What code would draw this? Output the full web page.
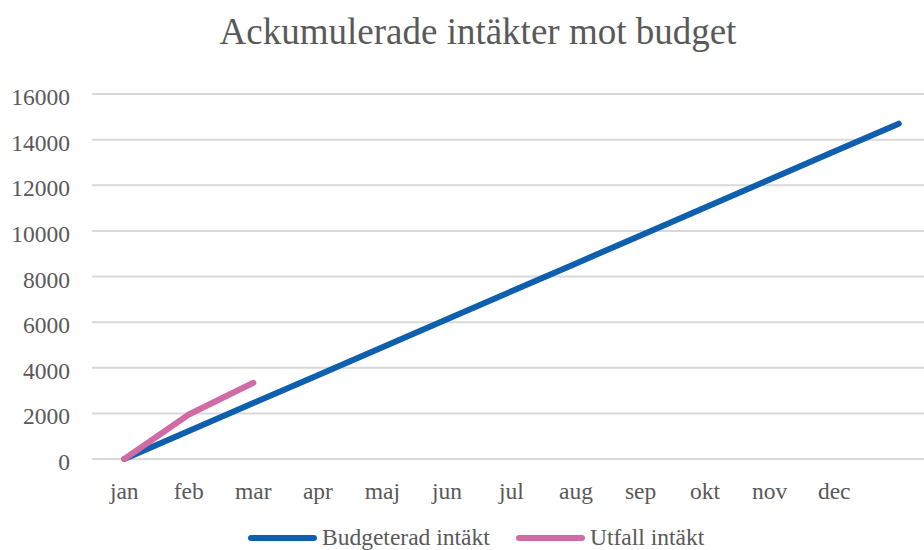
<!DOCTYPE html>
<html>
<head>
<meta charset="utf-8">
<script src="https://cdn.jsdelivr.net/npm/d3@7"></script>
<style>
  body { margin: 0; background: #fff; }
</style>
</head>
<body>
<div class="chart"></div>
<script>
// Data
const months = ['jan', 'feb', 'mar', 'apr', 'maj', 'jun', 'jul', 'aug', 'sep', 'okt', 'nov', 'dec', '']
const budget = [0, 1225, 2450, 3675, 4900, 6125, 7350, 8575, 9800, 11025, 12250, 13475, 14700]
const actual = [0, 1950, 3340]
const yTicks = [0, 2000, 4000, 6000, 8000, 10000, 12000, 14000, 16000]
const seriesNames = ['Budgeterad intäkt', 'Utfall intäkt']

const chartTitle = 'Ackumulerade intäkter mot budget'

/* Configuration */
const width = 924
const height = 550
const margin = { top: 94, left: 92, right: -7, bottom: 91 }
const colors = ['#0E5FAE', '#D16BA6']
const font = "'Times New Roman', 'Liberation Serif', Tinos, serif"
const labelSize = 23.5

const svg = d3
    .select('.chart')
    .append('svg')
    .attr('width', width)
    .attr('height', height)
    .style('font-family', font)
    .attr('fill', '#595959')

const x = d3
    .scaleBand()
    .domain(d3.range(months.length))
    .range([margin.left, width - margin.right])

const y = d3
    .scaleLinear()
    .domain([0, 16000])
    .range([height - margin.bottom, margin.top])

const xPos = i => x(i) + x.bandwidth() / 2

// Title
svg
    .append('text')
    .attr('x', 478)
    .attr('y', 44)
    .attr('text-anchor', 'middle')
    .attr('font-size', 37)
    .text(chartTitle)

// Gridlines
svg
    .append('g')
    .selectAll('line')
    .data(yTicks)
    .join('line')
    .attr('x1', margin.left)
    .attr('x2', width)
    .attr('y1', d => y(d))
    .attr('y2', d => y(d))
    .attr('stroke', '#D9D9D9')
    .attr('stroke-width', 2)

// Y labels
svg
    .append('g')
    .selectAll('text')
    .data(yTicks)
    .join('text')
    .attr('x', 70)
    .attr('y', d => y(d) + 11)
    .attr('text-anchor', 'end')
    .attr('font-size', labelSize)
    .text(d => d)

// X labels
svg
    .append('g')
    .selectAll('text')
    .data(months)
    .join('text')
    .attr('x', (d, i) => xPos(i))
    .attr('y', 499)
    .attr('text-anchor', 'middle')
    .attr('font-size', labelSize)
    .text(d => d)

// Lines
const line = d3
    .line()
    .x((d, i) => xPos(i))
    .y(d => y(d))

;[budget, actual].forEach((s, k) => {
    svg
        .append('path')
        .datum(s)
        .attr('fill', 'none')
        .attr('stroke', colors[k])
        .attr('stroke-width', 6)
        .attr('stroke-linecap', 'round')
        .attr('stroke-linejoin', 'round')
        .attr('d', line)
})

// Legend
const legendX = [251, 519]
const legend = svg
    .append('g')
    .selectAll('g')
    .data(d3.zip(seriesNames, colors))
    .join('g')
    .attr('transform', (d, i) => `translate(${legendX[i]}, 538)`)

legend
    .append('line')
    .attr('x1', 0)
    .attr('x2', 63)
    .attr('stroke', d => d[1])
    .attr('stroke-width', 6)
    .attr('stroke-linecap', 'round')

legend
    .append('text')
    .attr('x', 71)
    .attr('y', 7)
    .attr('font-size', labelSize)
    .text(d => d[0])
</script>
</body>
</html>
